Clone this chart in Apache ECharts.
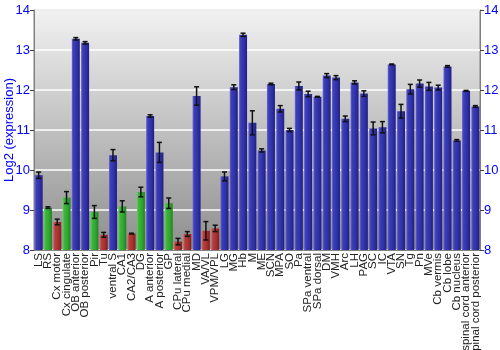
<!DOCTYPE html>
<html><head><meta charset="utf-8">
<script src="https://cdn.jsdelivr.net/npm/echarts@6/dist/echarts.min.js"></script>
<style>html,body{margin:0;padding:0;background:#fff}#c{width:500px;height:350px}</style>
</head><body><div id="c"></div>
<script>
const categories = ["LS","RS","Cx motor","Cx cingulate","OB anterior","OB posterior","Pir","Tu","ventral S","CA1","CA2/CA3","DG","A anterior","A posterior","GP","CPu lateral","CPu medial","MD","VA/VL","VPM/VPL","LG","MG","Hb","M","ME","SCN","MPA","SO","Pa","SPa ventral","SPa dorsal","DM","VMH","Arc","LH","PAG","SC","IC","VTA","SN","Tg","Pn","MVe","Cb vermis","Cb lobe","Cb nucleus","spinal cord anterior","spinal cord posterior"];
const values = [9.87,9.06,8.70,9.31,13.28,13.18,8.95,8.38,10.37,9.09,8.41,9.45,11.35,10.44,9.17,8.21,8.40,11.85,8.48,8.54,9.84,12.07,13.38,11.18,10.49,12.15,11.53,11.00,12.10,11.90,11.83,12.36,12.31,11.28,12.19,11.91,11.04,11.07,12.64,11.47,12.02,12.16,12.09,12.06,12.59,10.74,11.98,11.59];
const errors = [0.08,0.02,0.07,0.15,0.03,0.03,0.16,0.06,0.14,0.14,0.01,0.12,0.03,0.25,0.13,0.08,0.06,0.23,0.23,0.08,0.11,0.06,0.04,0.30,0.04,0.02,0.08,0.04,0.10,0.07,0.01,0.05,0.05,0.07,0.04,0.07,0.16,0.14,0.01,0.17,0.12,0.09,0.10,0.06,0.02,0.02,0.01,0.02];
const groups = ["b","g","r","g","b","b","g","r","b","g","r","g","b","b","g","r","r","b","r","r","b","b","b","b","b","b","b","b","b","b","b","b","b","b","b","b","b","b","b","b","b","b","b","b","b","b","b","b"];
const yTicks = [8,9,10,11,12,13,14];

function grad(c0,c1,c2,c3){
  return new echarts.graphic.LinearGradient(0,0,1,0,[
    {offset:0,color:c0},{offset:0.2,color:c1},{offset:0.65,color:c2},{offset:1,color:c3}]);
}
const palette = {
  b: grad('#6a6ad6','#3d3db8','#3030a4','#1e1e82'),
  g: grad('#6cd06c','#3db83d','#30a430','#1e821e'),
  r: grad('#d66a6a','#b83d3d','#a43030','#821e1e')
};
const barData = values.map((v,i)=>({value:v,itemStyle:{color:palette[groups[i]]}}));
const errData = values.map((v,i)=>[i, v-errors[i], v+errors[i]]);

const chart = echarts.init(document.getElementById('c'), null, {renderer:'canvas'});
const axisLabelStyle = {color:'#0000ff', fontSize:13, fontFamily:'Liberation Sans, Arial, sans-serif'};
chart.setOption({
  animation:false,
  grid:{left:34, right:20, top:10, bottom:100, show:true, containLabel:false, outerBoundsMode:'none',
    backgroundColor:new echarts.graphic.LinearGradient(0,0,0,1,[{offset:0,color:'#f2f2f2'},{offset:1,color:'#8e8e8e'}]),
    borderColor:'#808080', borderWidth:1},
  xAxis:{type:'category', data:categories,
    axisLine:{show:true,lineStyle:{color:'#808080'}}, axisTick:{show:false},
    axisLabel:{rotate:90, interval:0, fontSize:11.5, color:'#222', margin:3, fontFamily:'Liberation Sans, Arial, sans-serif'}},
  yAxis:[
    {type:'value', min:yTicks[0], max:yTicks[yTicks.length-1], interval:1,
     name:'Log2 (expression)', nameLocation:'middle', nameGap:18, nameMoveOverlap:false,
     nameTextStyle:{color:'#0000ff', fontSize:13, fontFamily:'Liberation Sans, Arial, sans-serif'},
     axisLine:{show:true,lineStyle:{color:'#808080'}}, axisTick:{show:true,length:4,lineStyle:{color:'#404040'}},
     axisLabel:Object.assign({margin:4},axisLabelStyle),
     splitLine:{show:true,lineStyle:{color:'#ffffff',width:1.5}}},
    {type:'value', position:'right', min:yTicks[0], max:yTicks[yTicks.length-1], interval:1,
     axisLine:{show:true,lineStyle:{color:'#808080'}}, axisTick:{show:true,length:4,lineStyle:{color:'#404040'}},
     axisLabel:Object.assign({margin:4},axisLabelStyle),
     splitLine:{show:false}}
  ],
  series:[
    {type:'bar', data:barData, barWidth:8, z:2},
    {type:'custom', z:3, data:errData,
     renderItem:function(params, api){
       const x = api.coord([api.value(0), api.value(1)])[0];
       const lo = api.coord([api.value(0), api.value(1)])[1];
       const hi = api.coord([api.value(0), api.value(2)])[1];
       const w = 2.5;
       const st = {stroke:'#111', lineWidth:1.5};
       return {type:'group', children:[
         {type:'line', shape:{x1:x,y1:lo,x2:x,y2:hi}, style:st},
         {type:'line', shape:{x1:x-w,y1:lo,x2:x+w,y2:lo}, style:st},
         {type:'line', shape:{x1:x-w,y1:hi,x2:x+w,y2:hi}, style:st}
       ]};
     }}
  ]
});
</script></body></html>
